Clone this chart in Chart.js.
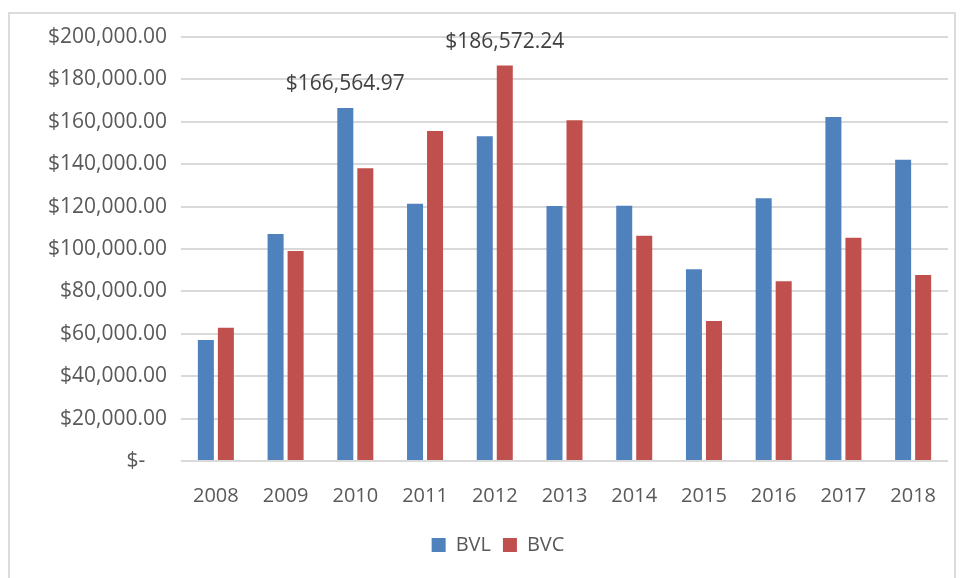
<!DOCTYPE html>
<html>
<head>
<meta charset="utf-8">
<script src="https://cdn.jsdelivr.net/npm/chart.js@4.4.0/dist/chart.umd.min.js"></script>
<style>
    html, body { margin: 0; padding: 0; background: #fff; }
    #wrap { position: relative; width: 965px; height: 578px; overflow: hidden; }
    #frame {
        position: absolute; left: 8px; top: 12px; width: 948px; height: 600px;
        border: 2px solid #dcdcdc; box-sizing: border-box;
    }
    #chart { position: absolute; left: 0; top: 0; }
</style>
</head>
<body>
<div id="wrap">
    <div id="frame"></div>
    <canvas id="chart" width="965" height="578"></canvas>
</div>
<script>
const years = ['2008', '2009', '2010', '2011', '2012', '2013', '2014', '2015', '2016', '2017', '2018'];
const bvl = [57100, 107100, 166564.97, 121400, 153200, 120300, 120400, 90400, 123900, 162300, 142100];
const bvc = [62900, 99100, 138100, 155700, 186572.24, 160700, 106300, 66000, 84800, 105300, 87700];
const yTicks = [0, 20000, 40000, 60000, 80000, 100000, 120000, 140000, 160000, 180000, 200000];
// only these two bars carry a value label
const labelled = [[0, 2], [1, 4]];

const textColor = '#595959';
const fontFamily = '"Open Sans", "Liberation Sans", sans-serif';

function money(v) {
    if (v === 0) return '$-    ';
    return '$' + v.toLocaleString('en-US', { minimumFractionDigits: 2, maximumFractionDigits: 2 });
}

const valueLabels = {
    id: 'valueLabels',
    afterDatasetsDraw(chart) {
        const ctx = chart.ctx;
        ctx.save();
        ctx.fillStyle = '#404040';
        ctx.font = '21px ' + fontFamily;
        ctx.textAlign = 'center';
        ctx.textBaseline = 'bottom';
        labelled.forEach(([ds, i]) => {
            const bar = chart.getDatasetMeta(ds).data[i];
            const v = chart.data.datasets[ds].data[i];
            ctx.fillText(money(v), bar.x, bar.y - 13);
        });
        ctx.restore();
    }
};

new Chart(document.getElementById('chart').getContext('2d'), {
    type: 'bar',
    data: {
        labels: years,
        datasets: [
            { label: 'BVL', data: bvl, backgroundColor: '#4F81BD' },
            { label: 'BVC', data: bvc, backgroundColor: '#C0504D' }
        ]
    },
    options: {
        responsive: false,
        animation: false,
        categoryPercentage: 0.574,
        barPercentage: 0.8,
        layout: { padding: { top: 37, right: 17, left: 48, bottom: 13 } },
        plugins: {
            legend: {
                position: 'bottom',
                labels: {
                    boxWidth: 14, boxHeight: 14, padding: 12,
                    color: textColor,
                    font: { size: 20, family: fontFamily }
                }
            },
            tooltip: { enabled: false }
        },
        scales: {
            x: {
                grid: { display: false },
                border: { display: false },
                ticks: { color: textColor, padding: 15, font: { size: 20, family: fontFamily } },
                afterFit(scale) { scale.height = 62; }
            },
            y: {
                min: 0,
                max: 200000,
                afterBuildTicks(scale) { scale.ticks = yTicks.map(v => ({ value: v })); },
                grid: { color: '#d9d9d9', lineWidth: 2, drawTicks: false },
                border: { display: false },
                ticks: {
                    color: textColor, padding: 14,
                    font: { size: 21, family: fontFamily },
                    callback: v => money(v)
                },
                afterFit(scale) { scale.width = 133; }
            }
        }
    },
    plugins: [valueLabels]
});
</script>
</body>
</html>
